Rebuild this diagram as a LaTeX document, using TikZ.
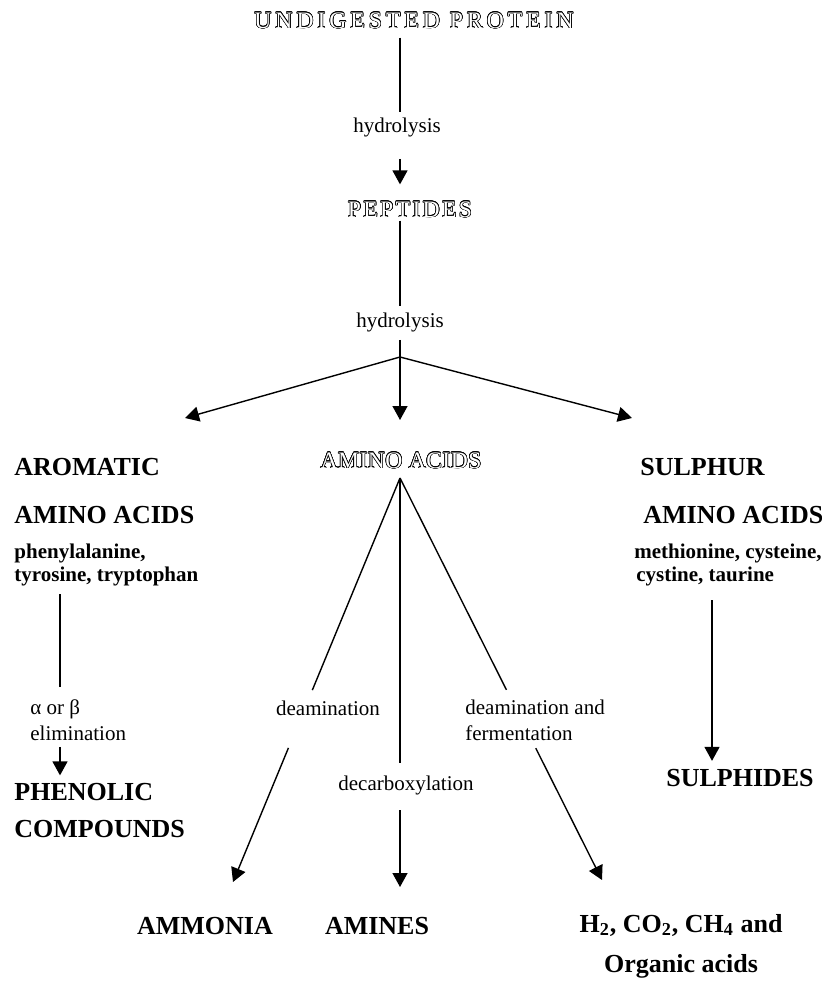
\documentclass[tikz,border=0pt]{standalone}
\usepackage{fontspec}
\setmainfont{Liberation Serif}
\usepackage{contour}
\usetikzlibrary{arrows.meta,calc}
\contourlength{0.3pt}
\newcommand{\hollow}[1]{\contour{black}{\textcolor{white}{#1}}}

\begin{document}
\begin{tikzpicture}[
    x=0.5pt, y=-0.5pt,
    every node/.style={inner sep=1pt},
    outlined/.style={font=\fontsize{11.8}{13}\selectfont\addfontfeature{LetterSpace=#1}},
    outlined/.default=12,
    heading/.style={font=\fontsize{13}{#1}\selectfont\bfseries, align=left},
    heading/.default=24,
    compound/.style={font=\fontsize{10.5}{11.5}\selectfont\bfseries, align=left},
    process/.style={font=\fontsize{10.5}{13}\selectfont, align=left},
    link/.style={line width=0.7pt},
    arrow/.style={link, -{Triangle[length=7pt, width=7.5pt]}}
]
    \useasboundingbox (0,0) rectangle (821,983);

    % main chain
    \coordinate (spine) at (400,0);
    \node[outlined=17] (protein) at (414,21) {\hollow{UNDIGESTED PROTEIN}};
    \node[process] (hyd1) at (397,127) {hydrolysis};
    \node[outlined=10] (peptides) at (410,210) {\hollow{PEPTIDES}};
    \node[process] (hyd2) at (400,322) {hydrolysis};
    \node[outlined=2] (amino) at (401,461) {\hollow{AMINO ACIDS}};

    \draw[link, shorten <=3pt, shorten >=1.5pt] (protein.south -| spine) -- (hyd1.north -| spine);
    \draw[arrow, shorten <=10pt, shorten >=7.5pt] (hyd1.south -| spine) -- (peptides.north -| spine);
    \draw[link, shorten >=2pt] (peptides.south -| spine) -- (hyd2.north -| spine);

    \coordinate (fork) at (400,357);
    \coordinate (toArom) at (185,418);
    \coordinate (toAmino) at (400,420);
    \coordinate (toSul) at (632,418);
    \draw[link, shorten <=3pt] (hyd2.south -| spine) -- (fork);
    \draw[arrow] (fork) -- (toArom);
    \draw[arrow] (fork) -- (toAmino);
    \draw[arrow] (fork) -- (toSul);

    % aromatic branch
    \node[heading, anchor=west] (aromatic) at (12,491) {AROMATIC\\AMINO ACIDS};
    \node[compound, anchor=west] (aromList) at (12,565) {phenylalanine,\\tyrosine, tryptophan};
    \node[process, anchor=west] (elim) at (28,720) {α or β\\elimination};
    \node[heading=18.5, anchor=west] (phenolic) at (12,811) {PHENOLIC\\COMPOUNDS};
    \coordinate (aromLine) at (60,0);
    \draw[link, shorten <=3pt, shorten >=5pt] (aromList.south -| aromLine) -- (elim.north -| aromLine);
    \draw[arrow, shorten <=2pt, shorten >=3pt] (elim.south -| aromLine) -- (phenolic.north -| aromLine);

    % sulphur branch
    \node[heading, anchor=west] (sulphur) at (638,491) {SULPHUR\\\hspace{1.5pt}AMINO ACIDS};
    \node[compound, anchor=west] (sulList) at (632,565) {methionine, cysteine,\\\hspace{1pt}cystine, taurine};
    \node[heading] (sulphides) at (740,778) {SULPHIDES};
    \coordinate (sulLine) at (712,0);
    \draw[arrow, shorten <=6pt, shorten >=3pt] (sulList.south -| sulLine) -- (sulphides.north -| sulLine);

    % amino acid fates
    \node[process] (deam) at (328,708) {deamination};
    \node[process] (decarb) at (406,785) {decarboxylation};
    \node[process, anchor=west] (deamFerm) at (463,720) {deamination and\\fermentation};
    \node[heading] (ammonia) at (205,926) {AMMONIA};
    \node[heading] (amines) at (377,926) {AMINES};
    \node[heading=20, align=center] (gases) at (681,946) {H\textsubscript{2}, CO\textsubscript{2}, CH\textsubscript{4} and\\Organic acids};

    \coordinate (apex) at (400,478);
    \coordinate (ammoniaTip) at (233,882);
    \coordinate (aminesTip) at (400,887);
    \coordinate (gasesTip) at (602,880);
    \draw[link] (apex) -- ($(apex)!0.525!(ammoniaTip)$);
    \draw[arrow] ($(apex)!0.668!(ammoniaTip)$) -- (ammoniaTip);
    \draw[link] (apex) -- ($(apex)!0.697!(aminesTip)$);
    \draw[arrow] ($(apex)!0.812!(aminesTip)$) -- (aminesTip);
    \draw[link] (apex) -- ($(apex)!0.527!(gasesTip)$);
    \draw[arrow] ($(apex)!0.672!(gasesTip)$) -- (gasesTip);
\end{tikzpicture}
\end{document}
